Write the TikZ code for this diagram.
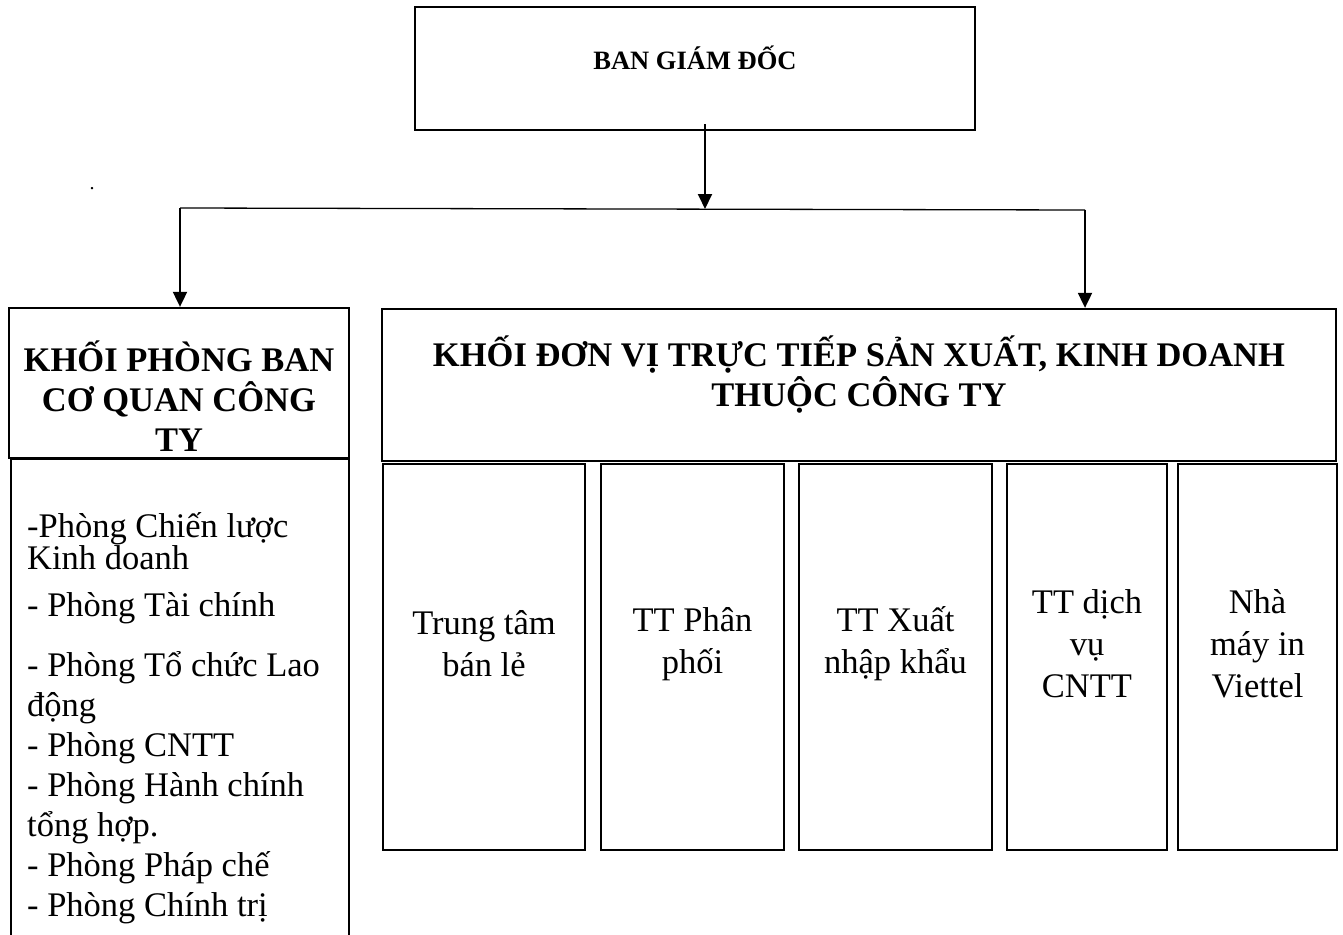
\documentclass[tikz,border=0pt]{standalone}
\usepackage{fontspec}
\setmainfont{Liberation Serif}
\usetikzlibrary{arrows.meta}

\begin{document}
\begin{tikzpicture}[x=1pt,y=-1pt]
        \tikzset{box/.style={draw,line width=2.3pt,inner sep=0pt},
            head/.style={font=\fontsize{34.5}{40}\selectfont\bfseries,align=center,inner sep=0pt},
            unit/.style={font=\fontsize{34.5}{42}\selectfont,align=center,inner sep=0pt},
            item/.style={font=\fontsize{34.5}{40}\selectfont,anchor=base west,inner sep=0pt},
            link/.style={draw,line width=1.3pt},
            arrow/.style={draw,line width=1.9pt,-{Triangle[length=15pt,width=14pt]}}}
        \useasboundingbox (0,0) rectangle (1343,934);
        \node[box,minimum width=560pt,minimum height=123pt] (bgd) at (695,68.5) {};
        \node[font=\fontsize{26.5}{30}\selectfont\bfseries,inner sep=0pt] (bgdtext) at (695,58) {BAN GIÁM ĐỐC};
        \node[item,font=\fontsize{20}{24}\selectfont,anchor=base] (dot) at (92,189) {.};
        % khoi phong ban
        \node[box,minimum width=340pt,minimum height=150pt] (kpb) at (179,383) {};
        \node[head] (kpbtext) at (179,396) {KHỐI PHÒNG BAN\\CƠ QUAN CÔNG\\TY};
        \node[box,minimum width=338pt,minimum height=486pt] (list) at (180,702) {};
        \foreach \y/\t [count=\i] in {537/-Phòng Chiến lược, 569/Kinh doanh,
                616/- Phòng Tài chính, 676/- Phòng Tổ chức Lao, 716/động,
                756/- Phòng CNTT, 796/- Phòng Hành chính, 836/tổng hợp.,
                876/- Phòng Pháp chế, 916/- Phòng Chính trị}
            \node[item] (li\i) at (27,\y) {\t};
        % khoi don vi
        \node[box,minimum width=954pt,minimum height=152pt] (kdv) at (859,385) {};
        \node[head] (kdvtext) at (859,375) {KHỐI ĐƠN VỊ TRỰC TIẾP SẢN XUẤT, KINH DOANH\\THUỘC CÔNG TY};
        \foreach \x/\w/\t [count=\i] in {484/202/{Trung tâm\\bán lẻ},
                692.5/183/{TT Phân\\phối}, 895.5/193/{TT Xuất\\nhập khẩu},
                1087/160/{TT dịch\\vụ\\CNTT}, 1257.5/159/{Nhà\\máy in\\Viettel}}
        {
            \node[box,minimum width=\w pt,minimum height=386pt] (u\i) at (\x,657) {};
            \node[unit] (ut\i) at (\x,644) {\t};
        }
        % connectors
        \coordinate (jm) at (705,209);
        \coordinate (jl) at (180,208);
        \coordinate (jr) at (1085,210);
        \draw[link] (jl) -- (jr);
        \draw[arrow] (jm |- bgd.south) ++(0,-7) -- (jm);
        \draw[arrow] (jl) -- (jl |- kpb.north);
        \draw[arrow] (jr) -- (jr |- kdv.north);
\end{tikzpicture}
\end{document}
